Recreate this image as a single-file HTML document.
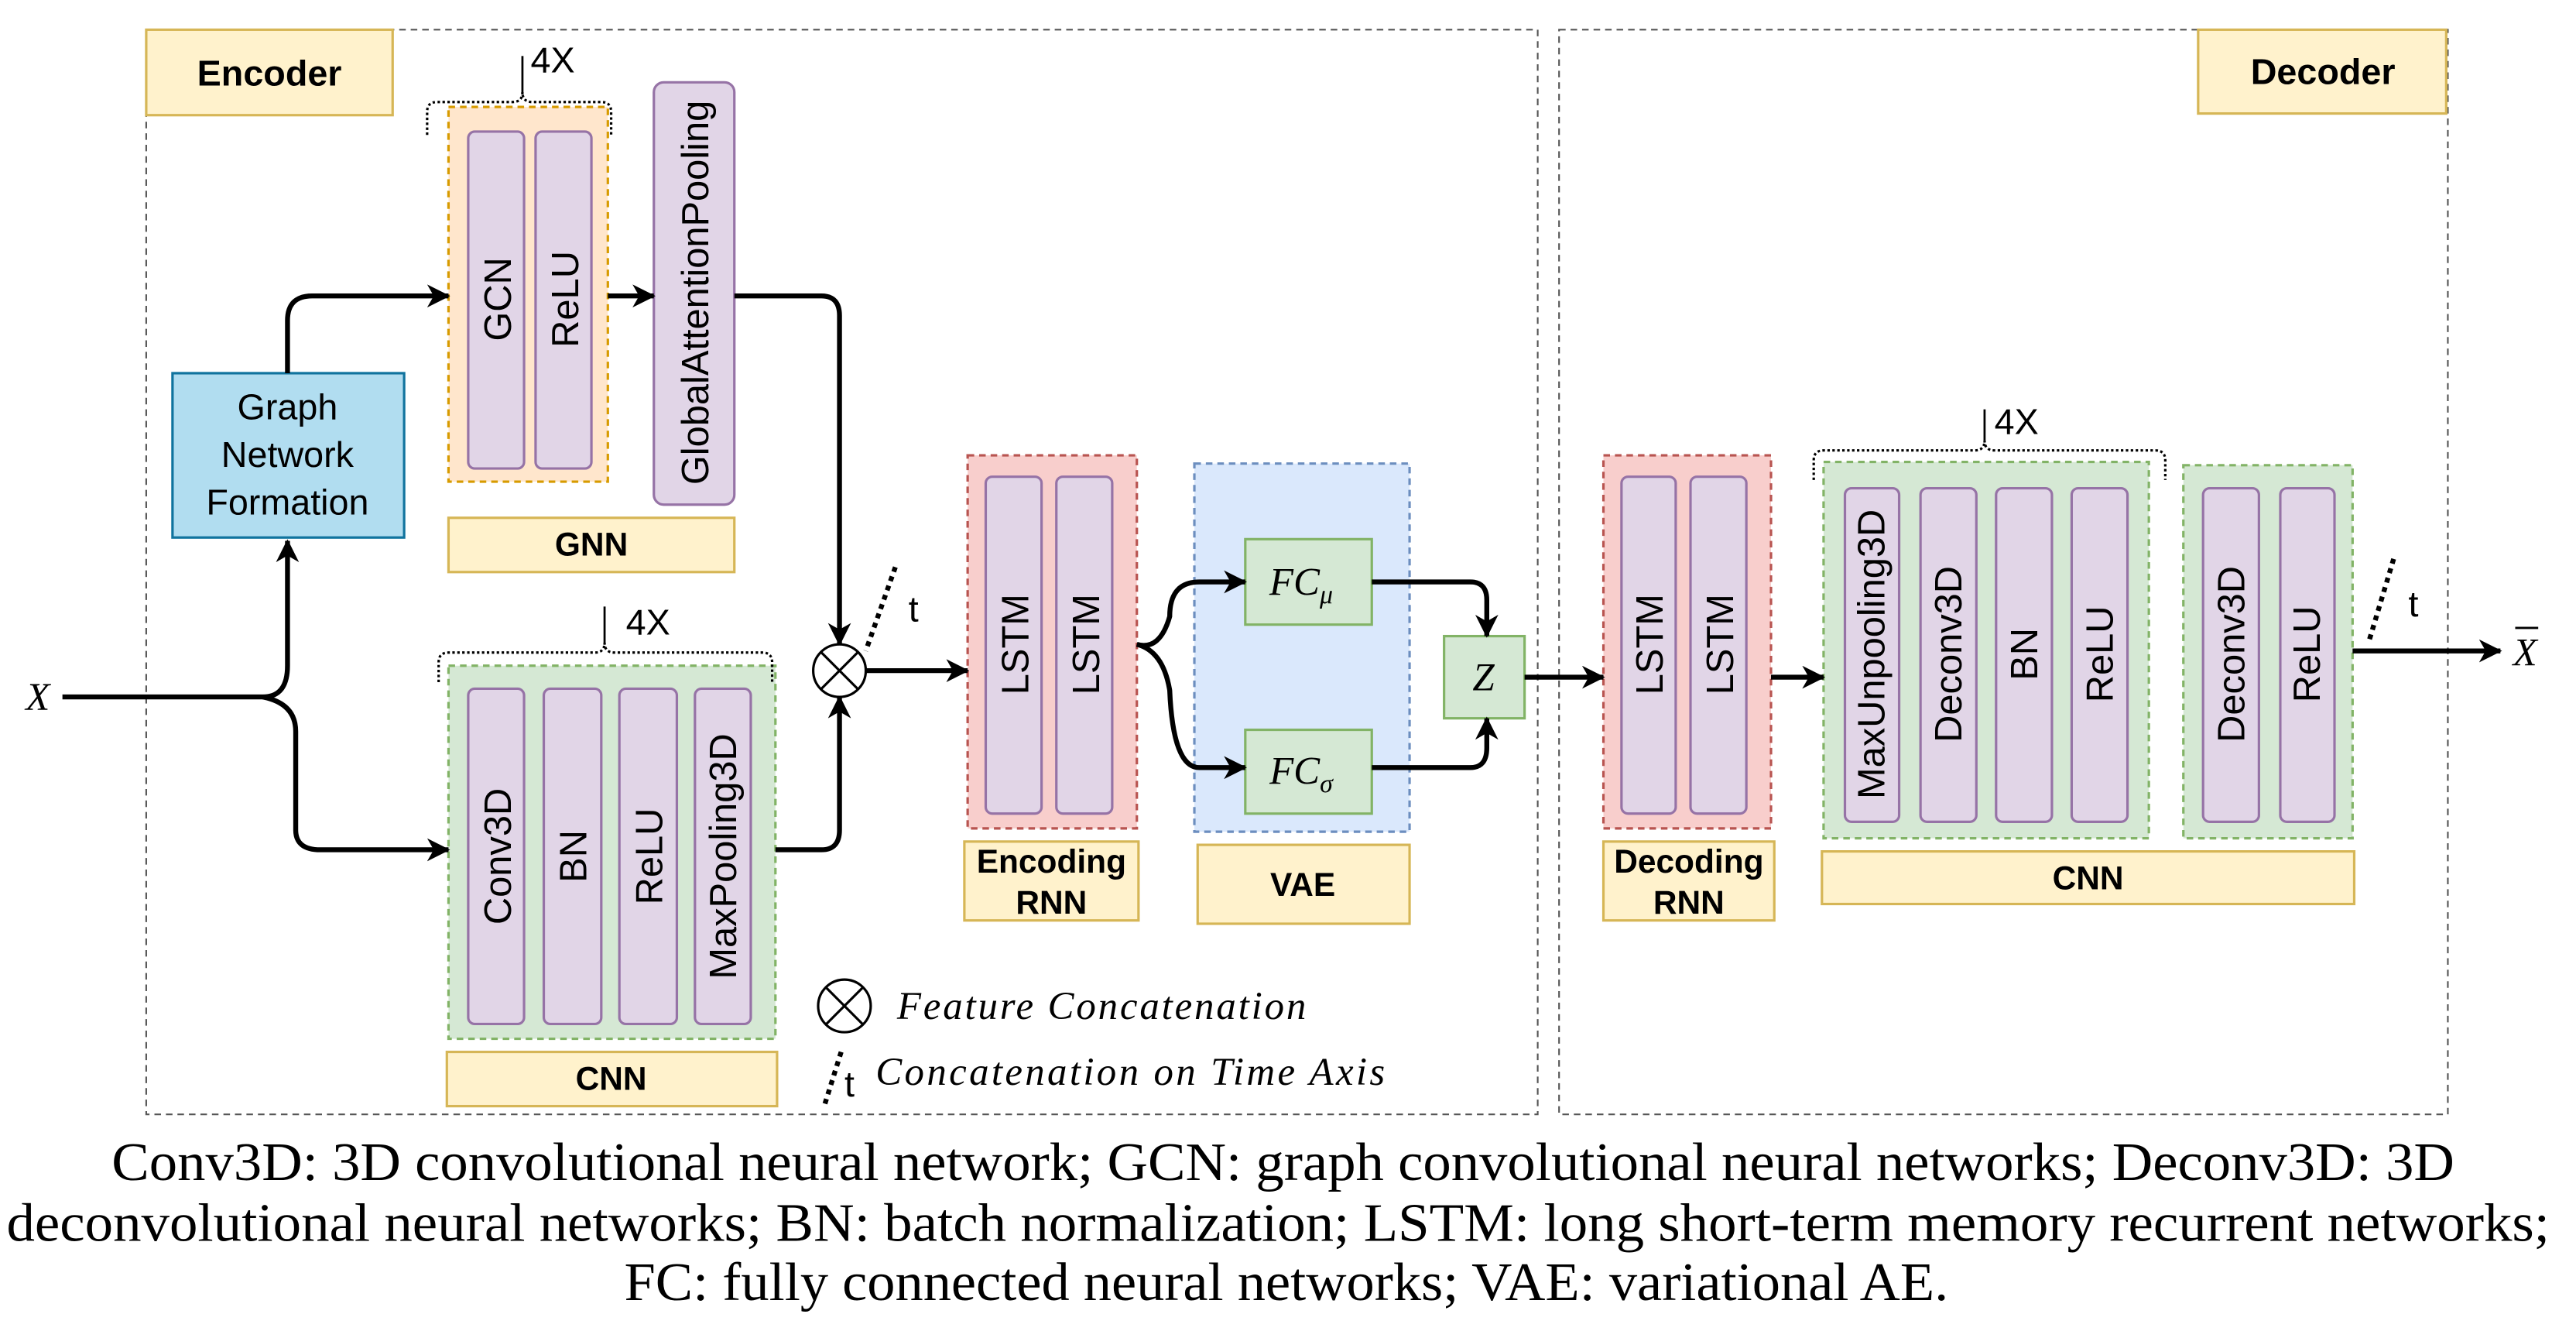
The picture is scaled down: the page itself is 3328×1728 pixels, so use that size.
<!DOCTYPE html>
<html><head><meta charset="utf-8"><style>html,body{margin:0;padding:0;background:#fff}svg{display:block}</style></head><body>
<svg width="3328" height="1728" viewBox="0 0 1568 814" xmlns="http://www.w3.org/2000/svg" font-family="Liberation Sans, sans-serif">
<defs>
<marker id="a" markerWidth="14" markerHeight="14" refX="13" refY="7" orient="auto" markerUnits="userSpaceOnUse" viewBox="0 0 14 14"><path d="M0,0 L14,7 L0,14 L4,7 z" fill="#000"/></marker>
</defs>
<rect width="1568" height="814" fill="#fff"/>
<rect x="89" y="18" width="847" height="660" fill="none" stroke="#555" stroke-dasharray="4,3"/>
<rect x="949" y="18" width="541" height="660" fill="none" stroke="#555" stroke-dasharray="4,3"/>
<g fill="#fff2cc" stroke="#d6b656" stroke-width="1.5">
<rect x="89" y="18" width="150" height="52"/><rect x="1338" y="18" width="151" height="51"/>
<rect x="273" y="315" width="174" height="33"/><rect x="272" y="640" width="201" height="33"/>
<rect x="587" y="512" width="106" height="48"/><rect x="729" y="514" width="129" height="48"/>
<rect x="976" y="512" width="104" height="48"/><rect x="1109" y="518" width="324" height="32"/>
</g>
<g font-weight="bold" font-size="20" text-anchor="middle">
<text x="164" y="52" font-size="22">Encoder</text><text x="1414" y="51" font-size="22">Decoder</text>
<text x="360" y="338">GNN</text><text x="372" y="663">CNN</text>
<text x="640" y="531">Encoding</text><text x="640" y="556">RNN</text>
<text x="793" y="545">VAE</text>
<text x="1028" y="531">Decoding</text><text x="1028" y="556">RNN</text>
<text x="1271" y="541">CNN</text>
</g>
<rect x="105" y="227" width="141" height="100" fill="#b1ddf0" stroke="#10739e" stroke-width="1.5"/>
<g font-size="22" text-anchor="middle"><text x="175" y="255">Graph</text><text x="175" y="284">Network</text><text x="175" y="313">Formation</text></g>
<rect x="273" y="65" width="97" height="228" fill="#ffe6cc" stroke="#d79b00" stroke-width="1.5" stroke-dasharray="4,3"/>
<rect x="273" y="405" width="199" height="227" fill="#d5e8d4" stroke="#82b366" stroke-width="1.5" stroke-dasharray="4,3"/>
<rect x="589" y="277" width="103" height="227" fill="#f8cecc" stroke="#b85450" stroke-width="1.5" stroke-dasharray="4,3"/>
<rect x="727" y="282" width="131" height="224" fill="#dae8fc" stroke="#6c8ebf" stroke-width="1.5" stroke-dasharray="4,3"/>
<rect x="976" y="277" width="102" height="227" fill="#f8cecc" stroke="#b85450" stroke-width="1.5" stroke-dasharray="4,3"/>
<rect x="1110" y="281" width="198" height="229" fill="#d5e8d4" stroke="#82b366" stroke-width="1.5" stroke-dasharray="4,3"/>
<rect x="1329" y="283" width="103" height="227" fill="#d5e8d4" stroke="#82b366" stroke-width="1.5" stroke-dasharray="4,3"/>
<g fill="#e1d5e7" stroke="#9673a6" stroke-width="1.5">
<rect x="285" y="80" width="34" height="205" rx="4"/><rect x="326" y="80" width="34" height="205" rx="4"/>
<rect x="398" y="50" width="49" height="257" rx="6"/>
<rect x="285" y="419" width="34" height="204" rx="4"/><rect x="331" y="419" width="35" height="204" rx="4"/>
<rect x="377" y="419" width="35" height="204" rx="4"/><rect x="423" y="419" width="34" height="204" rx="4"/>
<rect x="600" y="290" width="34" height="205" rx="4"/><rect x="643" y="290" width="34" height="205" rx="4"/>
<rect x="987" y="290" width="33" height="205" rx="4"/><rect x="1029" y="290" width="34" height="205" rx="4"/>
<rect x="1123" y="297" width="33" height="203" rx="4"/><rect x="1169" y="297" width="34" height="203" rx="4"/>
<rect x="1215" y="297" width="34" height="203" rx="4"/><rect x="1261" y="297" width="34" height="203" rx="4"/>
<rect x="1341" y="297" width="34" height="203" rx="4"/><rect x="1388" y="297" width="33" height="203" rx="4"/>
</g>
<g font-size="23" text-anchor="middle">
<text transform="translate(311,182) rotate(-90)">GCN</text>
<text transform="translate(352,182) rotate(-90)">ReLU</text>
<text transform="translate(431,178) rotate(-90)">GlobalAttentionPooling</text>
<text transform="translate(311,521) rotate(-90)">Conv3D</text>
<text transform="translate(357,521) rotate(-90)">BN</text>
<text transform="translate(403,521) rotate(-90)">ReLU</text>
<text transform="translate(448,521) rotate(-90)">MaxPooling3D</text>
<text transform="translate(626,392) rotate(-90)">LSTM</text>
<text transform="translate(669,392) rotate(-90)">LSTM</text>
<text transform="translate(1012,392) rotate(-90)">LSTM</text>
<text transform="translate(1055,392) rotate(-90)">LSTM</text>
<text transform="translate(1147,398) rotate(-90)">MaxUnpooling3D</text>
<text transform="translate(1194,398) rotate(-90)">Deconv3D</text>
<text transform="translate(1240,398) rotate(-90)">BN</text>
<text transform="translate(1286,398) rotate(-90)">ReLU</text>
<text transform="translate(1366,398) rotate(-90)">Deconv3D</text>
<text transform="translate(1412,398) rotate(-90)">ReLU</text>
</g>
<g fill="#d5e8d4" stroke="#82b366" stroke-width="1.5">
<rect x="758" y="328" width="77" height="52"/><rect x="758" y="444" width="77" height="51"/><rect x="879" y="387" width="49" height="50"/>
</g>
<g font-family="Liberation Serif, serif" font-style="italic" font-size="24" text-anchor="middle">
<text x="792" y="362">FC<tspan font-size="16" dy="5">μ</tspan></text>
<text x="792" y="477">FC<tspan font-size="16" dy="5">σ</tspan></text>
<text x="903" y="420">Z</text>
<text x="23" y="432">X</text>
<text x="1537" y="405">X</text>
</g>
<line x1="1531" y1="382" x2="1545" y2="382" stroke="#000" stroke-width="1.3"/>
<g fill="none" stroke="#000" stroke-width="1.5" stroke-dasharray="1.5,1.5">
<path d="M260,82 V68 Q260,62 266,62 H312 Q318,62 318,56 Q318,62 324,62 H366 Q372,62 372,68 V82"/>
<path d="M267,415 V403 Q267,397 273,397 H362 Q368,397 368,391 Q368,397 374,397 H464 Q470,397 470,403 V415"/>
<path d="M1104,292 V280 Q1104,274 1110,274 H1202 Q1208,274 1208,268 Q1208,274 1214,274 H1312 Q1318,274 1318,280 V292"/>
</g>
<g stroke="#000" stroke-width="1.3"><line x1="318" y1="34" x2="318" y2="56"/><line x1="368" y1="369" x2="368" y2="391"/><line x1="1208" y1="249" x2="1208" y2="268"/></g>
<g font-size="22"><text x="323" y="44">4X</text><text x="381" y="386">4X</text><text x="1214" y="264">4X</text></g>
<g fill="none" stroke="#000" stroke-width="3" marker-end="url(#a)">
<path d="M38,424 H160 Q175,424 175,405 V329"/>
<path d="M160,424 Q180,428 180,445 V505 Q180,517 195,517 H273"/>
<path d="M175,227 V195 Q175,180 190,180 H273"/>
<path d="M370,180 H398"/>
<path d="M447,180 H500 Q511,180 511,192 V392"/>
<path d="M472,517 H500 Q511,517 511,505 V424"/>
<path d="M527,408 H589"/>
<path d="M692,392 Q706,396 712,375 Q712,354 730,354 H758"/>
<path d="M692,392 Q708,396 712,420 Q714,467 730,467 H758"/>
<path d="M835,354 H895 Q905,354 905,365 V387"/>
<path d="M835,467 H895 Q905,467 905,455 V437"/>
<path d="M928,412 H976"/>
<path d="M1078,412 H1110"/>
<path d="M1432,396 H1522"/>
</g>
<g fill="#fff" stroke="#000" stroke-width="1.5">
<circle cx="511" cy="408" r="16"/><line x1="500" y1="397" x2="522" y2="419"/><line x1="522" y1="397" x2="500" y2="419"/>
<circle cx="514" cy="612" r="16"/><line x1="503" y1="601" x2="525" y2="623"/><line x1="525" y1="601" x2="503" y2="623"/>
</g>
<g stroke="#000" stroke-width="3" stroke-dasharray="3,3"><line x1="545" y1="345" x2="527" y2="396"/><line x1="1457" y1="340" x2="1442" y2="390"/><line x1="512" y1="640" x2="502" y2="672"/></g>
<g font-size="22"><text x="553" y="378">t</text><text x="1466" y="375">t</text><text x="514" y="667">t</text></g>
<g font-family="Liberation Serif, serif" font-style="italic" font-size="24"><text x="546" y="620" textLength="249">Feature Concatenation</text><text x="533" y="660" textLength="310">Concatenation on Time Axis</text></g>
<g font-family="Liberation Serif, serif" font-size="33">
<text x="68" y="718" textLength="1426" lengthAdjust="spacingAndGlyphs">Conv3D: 3D convolutional neural network; GCN: graph convolutional neural networks; Deconv3D: 3D</text>
<text x="4" y="755" textLength="1548" lengthAdjust="spacingAndGlyphs">deconvolutional neural networks; BN: batch normalization; LSTM: long short-term memory recurrent networks;</text>
<text x="380" y="791" textLength="806" lengthAdjust="spacingAndGlyphs">FC: fully connected neural networks; VAE: variational AE.</text>
</g>
</svg>
</body></html>
